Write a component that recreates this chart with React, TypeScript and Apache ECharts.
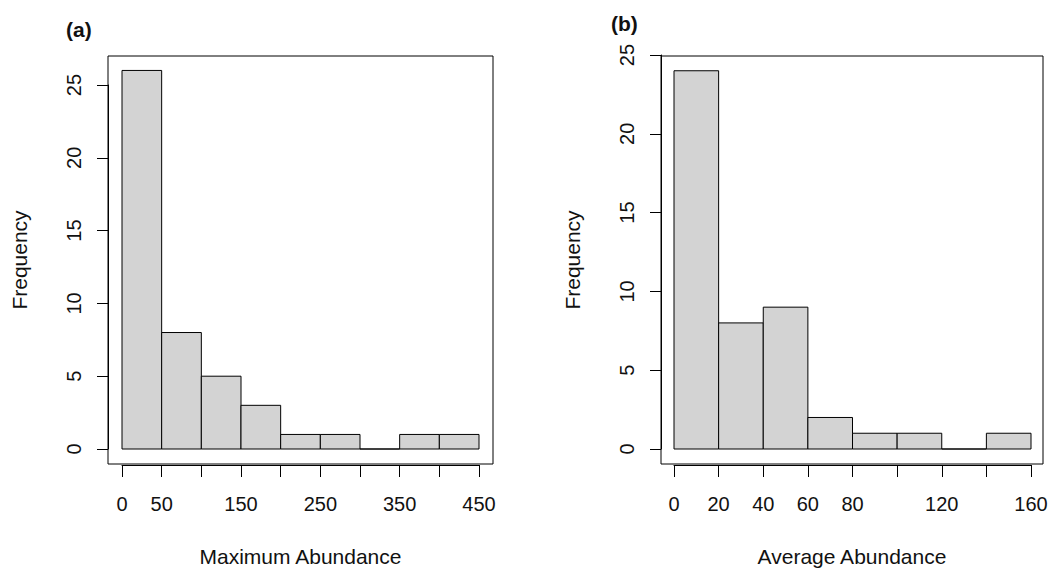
import React, { useEffect, useRef } from "react";
import * as echarts from "echarts";

// Panel (a): Maximum Abundance histogram, bin width 50
const breaksA = [0, 50, 100, 150, 200, 250, 300, 350, 400, 450];
const countsA = [26, 8, 5, 3, 1, 1, 0, 1, 1];
const shownLabelsA = [0, 50, 150, 250, 350, 450];

// Panel (b): Average Abundance histogram, bin width 20
const breaksB = [0, 20, 40, 60, 80, 100, 120, 140, 160];
const countsB = [24, 8, 9, 2, 1, 1, 0, 1];
const shownLabelsB = [0, 20, 40, 60, 80, 120, 160];

const yTicks = { min: 0, max: 25, interval: 5 };

const FONT = "Liberation Sans, Arial, sans-serif";
const TXT = "#111";

function bins(breaks: number[], counts: number[]) {
  return counts.map((c, i) => [breaks[i], breaks[i + 1], c]);
}

const renderRect = (params: any, api: any) => {
  const x0 = api.value(0);
  const x1 = api.value(1);
  const c = api.value(2);
  const p0 = api.coord([x0, c]);
  const p1 = api.coord([x1, 0]);
  return {
    type: "rect",
    shape: { x: p0[0], y: p0[1], width: p1[0] - p0[0], height: p1[1] - p0[1] },
    style: { fill: "#d3d3d3", stroke: "#000", lineWidth: 1 },
  };
};

export default function App() {
  const ref = useRef<HTMLDivElement>(null);
  useEffect(() => {
    if (!ref.current) return;
    const chart = echarts.init(ref.current, undefined, { renderer: "svg" });

    const boxGrid = (left: number) => ({
      left,
      top: 56,
      width: left < 500 ? 385 : 382,
      height: 409,
      show: true,
      borderColor: "#000",
      borderWidth: 1,
      backgroundColor: "transparent",
      containLabel: false,
    });

    const boxX = (gi: number, name: string) => ({
      type: "value",
      gridIndex: gi,
      min: 0,
      max: 1,
      name,
      nameLocation: "middle",
      nameGap: 82,
      nameTextStyle: { fontFamily: FONT, fontSize: 21, color: TXT },
      axisLine: { show: false, onZero: false },
      axisTick: { show: false },
      axisLabel: { show: false },
      splitLine: { show: false },
    });
    const boxY = (gi: number) => ({
      type: "value",
      gridIndex: gi,
      min: 0,
      max: 1,
      name: "Frequency",
      nameLocation: "middle",
      nameGap: 78,
      nameTextStyle: { fontFamily: FONT, fontSize: 21, color: TXT },
      axisLine: { show: false, onZero: false },
      axisTick: { show: false },
      axisLabel: { show: false },
      splitLine: { show: false },
    });

    const dataX = (gi: number, breaks: number[], shown: number[]) => ({
      type: "value",
      gridIndex: gi,
      min: breaks[0],
      max: breaks[breaks.length - 1],
      interval: breaks[1] - breaks[0],
      offset: 16,
      axisLine: { show: true, onZero: false, lineStyle: { color: "#000", width: 1 } },
      axisTick: { show: true, length: 12, lineStyle: { color: "#000", width: 1 } },
      axisLabel: {
        show: true,
        margin: 29,
        fontFamily: FONT,
        fontSize: 20,
        color: TXT,
        showMinLabel: true,
        showMaxLabel: true,
        formatter: (v: number) => (shown.includes(v) ? String(v) : ""),
      },
      splitLine: { show: false },
    });
    const dataY = (gi: number, off: number) => ({
      type: "value",
      gridIndex: gi,
      min: yTicks.min,
      max: yTicks.max,
      interval: yTicks.interval,
      offset: off,
      axisLine: { show: true, onZero: false, lineStyle: { color: "#000", width: 1 } },
      axisTick: { show: true, length: 11, lineStyle: { color: "#000", width: 1 } },
      axisLabel: {
        show: true,
        rotate: 90,
        margin: 24,
        fontFamily: FONT,
        fontSize: 20,
        color: TXT,
      },
      splitLine: { show: false },
    });

    chart.setOption({
      animation: false,
      backgroundColor: "#fff",
      grid: [
        boxGrid(108),
        { left: 122, top: 85, width: 357, height: 364, show: false },
        boxGrid(661),
        { left: 674, top: 55, width: 357, height: 394, show: false },
      ],
      xAxis: [
        boxX(0, "Maximum Abundance"),
        dataX(1, breaksA, shownLabelsA),
        boxX(2, "Average Abundance"),
        dataX(3, breaksB, shownLabelsB),
      ],
      yAxis: [boxY(0), dataY(1, 14), boxY(2), dataY(3, 13)],
      title: [
        {
          text: "(a)",
          left: 61,
          top: 14,
          textStyle: { fontFamily: FONT, fontSize: 21, fontWeight: "bold", color: TXT },
        },
        {
          text: "(b)",
          left: 606,
          top: 8,
          textStyle: { fontFamily: FONT, fontSize: 21, fontWeight: "bold", color: TXT },
        },
      ],
      series: [
        {
          type: "custom",
          xAxisIndex: 1,
          yAxisIndex: 1,
          clip: false,
          renderItem: renderRect,
          encode: { x: [0, 1], y: 2 },
          data: bins(breaksA, countsA),
        },
        {
          type: "custom",
          xAxisIndex: 3,
          yAxisIndex: 3,
          clip: false,
          renderItem: renderRect,
          encode: { x: [0, 1], y: 2 },
          data: bins(breaksB, countsB),
        },
      ],
    });
    return () => chart.dispose();
  }, []);
  return (
    <div
      ref={ref}
      style={{ position: "fixed", left: 0, top: 0, width: 1059, height: 572, background: "#fff" }}
    />
  );
}
